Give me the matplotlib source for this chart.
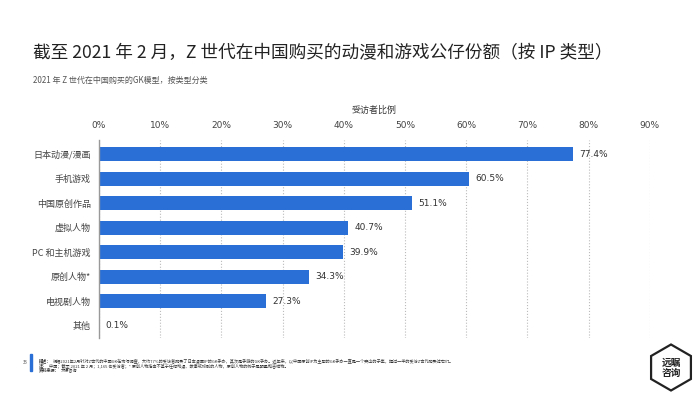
import matplotlib.pyplot as plt
from matplotlib.patches import RegularPolygon, Rectangle

plt.rcParams['font.family'] = ['Noto Sans CJK SC', 'DejaVu Sans']

categories = ['日本动漫/漫画', '手机游戏', '中国原创作品', '虚拟人物',
              'PC 和主机游戏', '原创人物*', '电视剧人物', '其他']
shares = [77.4, 60.5, 51.1, 40.7, 39.9, 34.3, 27.3, 0.1]
ticks = [0, 10, 20, 30, 40, 50, 60, 70, 80, 90]

title = '截至 2021 年 2 月，Z 世代在中国购买的动漫和游戏公仔份额（按 IP 类型）'
subtitle = '2021 年 Z 世代在中国购买的GK模型，按类型分类'
notes = [
    ('描述：', '根据2021年2月针对Z世代的中国GK在市场调查，大约77%的受访者购买了日本漫画IP的GK手办，其次是手游的GK手办。近年来，以中国原创IP为主题的GK手办一直是一个突出的子集，超过一半的受访Z世代购买过它们。'),
    ('注：', '中国；截至 2021 年 2 月；1,165 名受访者；* 原创人物指由不基于任何动漫、故事或戏剧的人物，原创人物的例子是明星和吉祥物。'),
    ('资料来源：', '艾媒咨询'),
]

fig = plt.figure(figsize=(7, 3.93), dpi=100)
fig.patch.set_facecolor('white')

ax = fig.add_axes([0.1414, 0.14, 0.787, 0.504])
bar_color = '#2a6fd6'
ypos = list(range(len(categories)))
ax.barh(ypos, shares, height=0.56, color=bar_color, zorder=3)
for y, v in zip(ypos, shares):
    ax.text(v + 1.0, y, f'{v}%', va='center', ha='left', fontsize=6.5,
            color='#333333', family=['DejaVu Sans'])

ax.set_xlim(0, 90)
ax.set_ylim(7.5, -0.58)
ax.set_yticks(ypos)
ax.set_yticklabels(categories, fontsize=6.5, color='#444444')
ax.set_xticks(ticks)
ax.set_xticklabels([f'{t}%' for t in ticks], fontsize=6.5, color='#444444',
                   family=['DejaVu Sans'])
ax.xaxis.tick_top()
ax.xaxis.set_label_position('top')
ax.set_xlabel('受访者比例', fontsize=6.5, color='#333333', labelpad=6)
ax.tick_params(axis='y', length=0, pad=6)
ax.tick_params(axis='x', length=0, pad=7)
ax.grid(axis='x', color='#bbbbbb', linestyle=':', linewidth=0.8, zorder=0)
for s in ['top', 'right', 'bottom']:
    ax.spines[s].set_visible(False)
ax.spines['left'].set_color('#999999')
ax.spines['left'].set_linewidth(1.0)
ax.spines['left'].set_zorder(4)

fig.text(0.047, 0.865, title, fontsize=12.7, color='#222222', va='center')
fig.text(0.047, 0.795, subtitle, fontsize=5.8, color='#555555', va='center')

# footer
fig.text(0.033, 0.078, '33', fontsize=3.2, color='#555555', va='center')
fig.add_artist(Rectangle((0.0425, 0.055), 0.003, 0.045, transform=fig.transFigure,
                         color='#2a6fd6'))
renderer = fig.canvas.get_renderer()
yy = 0.081
for head, body in notes:
    t = fig.text(0.056, yy, head, fontsize=3.0, fontweight='bold', color='#333333', va='center')
    w = t.get_window_extent(renderer).width / fig.bbox.width
    fig.text(0.056 + w + 0.002, yy, body, fontsize=3.0, color='#333333', va='center')
    yy -= 0.0115

# logo (drawn in inches so the hexagon stays regular)
fig.add_artist(RegularPolygon((6.71, 0.255), numVertices=6, radius=0.23,
                              orientation=0.0, transform=fig.dpi_scale_trans,
                              facecolor='white', edgecolor='#222222', linewidth=1.6))
fig.text(6.71 / 7, 0.255 / 3.93, '远瞩\n咨询', fontsize=7, fontweight='bold', color='#222222',
         ha='center', va='center', linespacing=1.0)

fig.savefig('out.png', dpi=100)
